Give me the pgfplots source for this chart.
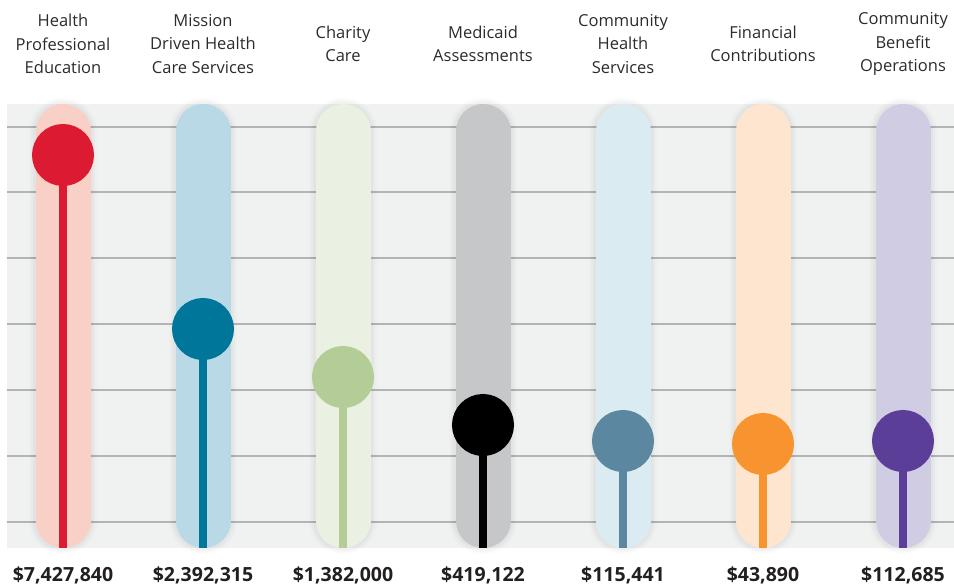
\documentclass[border=0pt]{standalone}
\usepackage{pgfplots}
\pgfplotsset{compat=1.18}
\usepackage{fontspec}
\setmainfont{Open Sans}
\definecolor{panel}{HTML}{F0F2F1}
\definecolor{gridc}{HTML}{B4B4B4}
\definecolor{txt}{HTML}{2B2B2B}
\definecolor{num}{HTML}{231F20}
\definecolor{capA}{HTML}{F8D0C6}\definecolor{dotA}{HTML}{DC1A32}
\definecolor{capB}{HTML}{B8D9E5}\definecolor{dotB}{HTML}{00779A}
\definecolor{capC}{HTML}{EAF0E2}\definecolor{dotC}{HTML}{B4CC96}
\definecolor{capD}{HTML}{C6C7C9}\definecolor{dotD}{HTML}{000000}
\definecolor{capE}{HTML}{DBEBF2}\definecolor{dotE}{HTML}{5B88A0}
\definecolor{capF}{HTML}{FDE5CF}\definecolor{dotF}{HTML}{F79430}
\definecolor{capG}{HTML}{D0CCE4}\definecolor{dotG}{HTML}{5A3E98}
\begin{document}
\begin{tikzpicture}[x=1pt,y=1pt]
\useasboundingbox (0,0) rectangle (954,585);
\begin{axis}[
  at={(7pt,37pt)}, anchor=south west,
  width=947pt, height=444pt, scale only axis,
  xmin=-0.4, xmax=6.3643, ymin=0, ymax=444,
  axis background/.style={fill=panel},
  axis line style={draw=none},
  tick style={draw=none},
  xtick=\empty,
  ytick={26,92,158,224,290,356,421},
  yticklabels=\empty,
  ymajorgrids,
  grid style={line width=1.3pt, color=gridc},
  clip=false,
]
% soft capsule shadows
\pgfplotsinvokeforeach{0,...,6}{
  \addplot[line width=68pt, line cap=round, color=black, opacity=0.012] coordinates {(#1,27.5) (#1,416.5)};
  \addplot[line width=64pt, line cap=round, color=black, opacity=0.018] coordinates {(#1,27.5) (#1,416.5)};
  \addplot[line width=60pt, line cap=round, color=black, opacity=0.025] coordinates {(#1,27.5) (#1,416.5)};
}
% capsules
\addplot[line width=55pt, line cap=round, color=capA] coordinates {(0,27.5) (0,416.5)};
\addplot[line width=55pt, line cap=round, color=capB] coordinates {(1,27.5) (1,416.5)};
\addplot[line width=55pt, line cap=round, color=capC] coordinates {(2,27.5) (2,416.5)};
\addplot[line width=55pt, line cap=round, color=capD] coordinates {(3,27.5) (3,416.5)};
\addplot[line width=55pt, line cap=round, color=capE] coordinates {(4,27.5) (4,416.5)};
\addplot[line width=55pt, line cap=round, color=capF] coordinates {(5,27.5) (5,416.5)};
\addplot[line width=55pt, line cap=round, color=capG] coordinates {(6,27.5) (6,416.5)};
% lollipops
\addplot[line width=8pt, color=dotA, mark=*, mark indices={2}, mark size=27pt, mark options={draw=none, fill=dotA}] coordinates {(0,0) (0,393)};
\addplot[line width=8pt, color=dotB, mark=*, mark indices={2}, mark size=27pt, mark options={draw=none, fill=dotB}] coordinates {(1,0) (1,219)};
\addplot[line width=8pt, color=dotC, mark=*, mark indices={2}, mark size=27pt, mark options={draw=none, fill=dotC}] coordinates {(2,0) (2,171)};
\addplot[line width=8pt, color=dotD, mark=*, mark indices={2}, mark size=27pt, mark options={draw=none, fill=dotD}] coordinates {(3,0) (3,123)};
\addplot[line width=8pt, color=dotE, mark=*, mark indices={2}, mark size=27pt, mark options={draw=none, fill=dotE}] coordinates {(4,0) (4,107)};
\addplot[line width=8pt, color=dotF, mark=*, mark indices={2}, mark size=27pt, mark options={draw=none, fill=dotF}] coordinates {(5,0) (5,104)};
\addplot[line width=8pt, color=dotG, mark=*, mark indices={2}, mark size=27pt, mark options={draw=none, fill=dotG}] coordinates {(6,0) (6,107)};
% category labels
\tikzset{cat/.style={align=center, text=txt, font=\fontsize{16.5}{23.5}\selectfont, inner sep=0pt},
         val/.style={text=num, font=\bfseries\fontsize{19.5}{24}\selectfont, inner sep=0pt}}
\node[cat] at (axis cs:0,504) {Health\\Professional\\Education};
\node[cat] at (axis cs:1,504) {Mission\\Driven Health\\Care Services};
\node[cat] at (axis cs:2,504) {Charity\\Care};
\node[cat] at (axis cs:3,504) {Medicaid\\Assessments};
\node[cat] at (axis cs:4,504) {Community\\Health\\Services};
\node[cat] at (axis cs:5,504) {Financial\\Contributions};
\node[cat] at (axis cs:6,504) {Community\\Benefit\\Operations};
\node[val] at (axis cs:0,-27) {\$7,427,840};
\node[val] at (axis cs:1,-27) {\$2,392,315};
\node[val] at (axis cs:2,-27) {\$1,382,000};
\node[val] at (axis cs:3,-27) {\$419,122};
\node[val] at (axis cs:4,-27) {\$115,441};
\node[val] at (axis cs:5,-27) {\$43,890};
\node[val] at (axis cs:6,-27) {\$112,685};
\end{axis}
\end{tikzpicture}
\end{document}
